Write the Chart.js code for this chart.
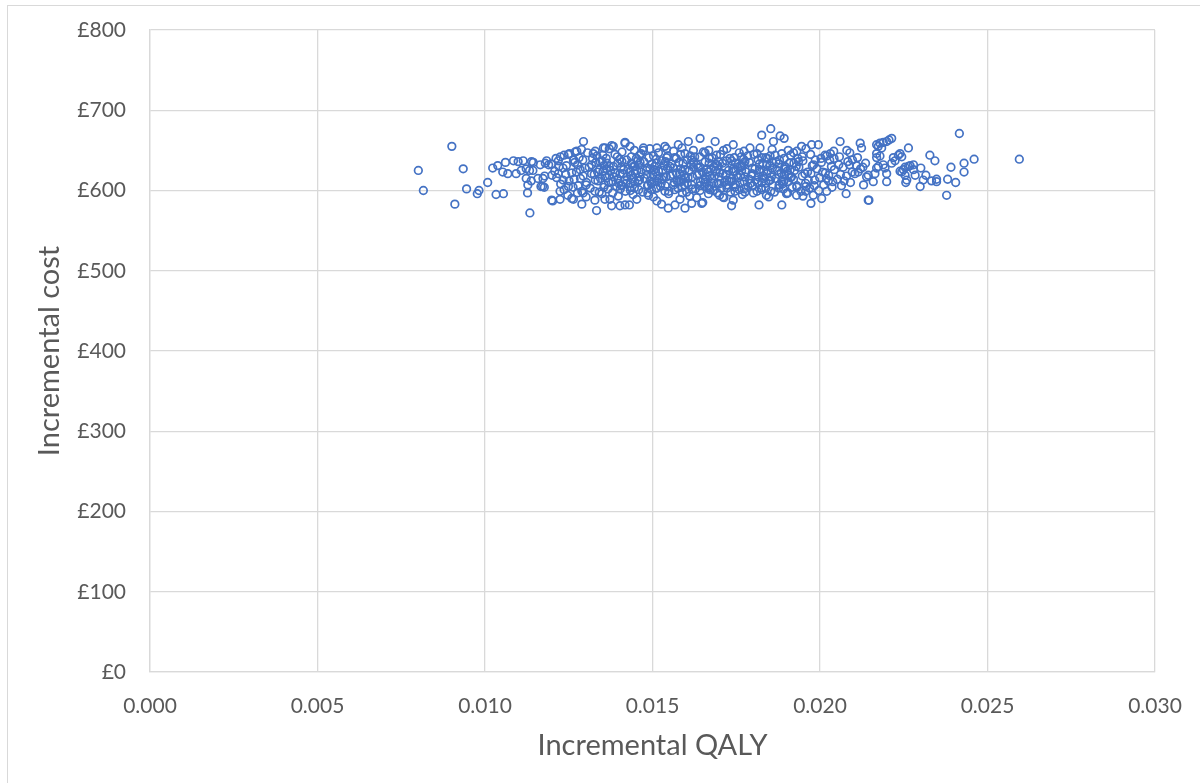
<!DOCTYPE html>
<html>
<head>
<meta charset="utf-8">
<script src="https://cdn.jsdelivr.net/npm/chart.js@4"></script>
<style>
  html, body { margin: 0; padding: 0; background: #fff; }
  #frame { position: absolute; left: 7px; top: 5px; width: 1300px; height: 900px; border: 1.5px solid #d9d9d9; }
  #wrap { position: absolute; left: 0; top: 0; width: 1200px; height: 783px; }
</style>
</head>
<body>
<div id="frame"></div>
<div id="wrap"><canvas id="ce_plane" width="1200" height="783"></canvas></div>
<script>
// incremental QALY / incremental cost pairs
var leftTail = [
  [0.00901,655],[0.00801,625],[0.00935,627],[0.00816,600],[0.00945,602],[0.00910,583],[0.00982,600],
  [0.00977,596],[0.01008,610],[0.01023,628],[0.01033,595],[0.01055,596],[0.01038,631],[0.01061,635],
  [0.01085,637],[0.01099,636],[0.01114,637],[0.01139,636],[0.01144,635],[0.01053,623],[0.01068,621],
  [0.01093,621],[0.01108,625],[0.01123,627],[0.01133,625],[0.01143,625],[0.01123,615],[0.01128,607],
  [0.01138,612],[0.01127,597],[0.01134,572],[0.01158,615],[0.01173,615],[0.01178,618],[0.01167,605],
  [0.01177,604],[0.01165,632],[0.01180,634],[0.01190,632],[0.01200,619],[0.01202,587],[0.01172,605]
];

var topFringe = [
  [0.01294,661],[0.01236,644],[0.01274,649],[0.01323,646],[0.01353,653],[0.01378,656],[0.01418,660],
  [0.01433,655],[0.01473,650],[0.01513,653],[0.01542,652],[0.01577,657],[0.01607,661],[0.01642,665],
  [0.01622,650],[0.01184,637],[0.01264,638],[0.01853,677],[0.01826,669],[0.01881,668],[0.01893,665],
  [0.01861,661],[0.01687,661],[0.01741,657],[0.01791,653],[0.01821,653],[0.01945,655],[0.01975,657],
  [0.01995,657],[0.02060,661],[0.02120,659],[0.02124,653],[0.02080,650],[0.01886,646],[0.02015,644],
  [0.02020,643],[0.01249,645],[0.01269,648],[0.01358,653],[0.01383,655],[0.01473,653],[0.01537,655],
  [0.01418,659],[0.01657,647],[0.01712,650],[0.01931,649]
];

var bottomFringe = [
  [0.01199,588],[0.01224,589],[0.01264,589],[0.01289,583],[0.01333,575],[0.01328,588],[0.01358,589],
  [0.01378,581],[0.01403,581],[0.01418,582],[0.01431,582],[0.01373,589],[0.01453,589],[0.01488,594],
  [0.01513,587],[0.01527,583],[0.01547,578],[0.01567,582],[0.01582,589],[0.01597,578],[0.01632,591],
  [0.01647,584],[0.01224,599],[0.01293,597],[0.01650,585],[0.01736,581],[0.01741,588],[0.01818,582],
  [0.01886,582],[0.01973,584],[0.01980,594],[0.02005,590],[0.02020,599],[0.02078,596],[0.02144,588],
  [0.01930,594],[0.01900,596],[0.01840,594],[0.01776,598],[0.01700,594],[0.01710,592],[0.01958,605],
  [0.02025,612],[0.02130,607],[0.01259,590],[0.01617,584]
];

var core = [
  [0.01225,642],[0.01252,646],[0.01281,641],[0.01306,647],[0.01334,643],[0.01362,640],[0.01388,645],
  [0.01409,648],[0.01437,642],[0.01466,646],[0.01489,641],[0.01518,647],[0.01545,643],[0.01571,640],
  [0.01597,646],[0.01626,642],[0.01652,648],[0.01678,641],[0.01703,645],[0.01731,640],[0.01759,647],
  [0.01784,643],[0.01812,646],[0.01838,641],[0.01866,644],[0.01893,640],[0.01921,647],[0.01947,642],
  [0.01972,645],[0.02003,640],[0.02031,646],[0.02058,642],[0.02089,647],[0.02112,641],
  [0.01198,633],[0.01219,637],[0.01243,631],[0.01268,635],[0.01292,638],[0.01318,632],[0.01343,636],
  [0.01371,630],[0.01396,634],[0.01423,638],[0.01447,631],[0.01474,636],[0.01499,633],[0.01527,637],
  [0.01552,630],[0.01579,635],[0.01604,638],[0.01632,632],[0.01657,636],[0.01684,630],[0.01709,634],
  [0.01736,637],[0.01763,631],[0.01789,635],[0.01815,638],[0.01842,632],[0.01869,636],[0.01895,630],
  [0.01922,634],[0.01949,637],[0.01977,631],[0.02004,635],[0.02029,638],[0.02056,632],[0.02083,636],
  [0.02109,631],[0.02136,634],
  [0.01208,624],[0.01233,628],[0.01259,622],[0.01284,626],[0.01311,629],[0.01336,623],[0.01363,627],
  [0.01388,622],[0.01414,626],[0.01441,629],[0.01466,623],[0.01492,627],[0.01518,624],[0.01545,628],
  [0.01571,622],[0.01597,626],[0.01622,629],[0.01649,623],[0.01674,627],[0.01701,622],[0.01727,625],
  [0.01754,629],[0.01779,623],[0.01806,627],[0.01832,624],[0.01858,628],[0.01884,622],[0.01911,626],
  [0.01937,629],[0.01963,623],[0.01991,627],[0.02016,622],[0.02043,626],[0.02069,629],[0.02096,623],
  [0.02121,627],
  [0.01214,616],[0.01241,620],[0.01266,614],[0.01293,618],[0.01318,621],[0.01345,615],[0.01371,619],
  [0.01397,614],[0.01424,617],[0.01449,621],[0.01476,615],[0.01502,619],[0.01528,614],[0.01553,618],
  [0.01581,621],[0.01606,616],[0.01633,619],[0.01658,614],[0.01685,618],[0.01711,621],[0.01737,615],
  [0.01763,619],[0.01789,614],[0.01816,617],[0.01841,621],[0.01868,615],[0.01894,619],[0.01921,614],
  [0.01947,618],[0.01973,621],[0.01999,616],[0.02026,619],[0.02052,614],[0.02079,618],[0.02104,621],
  [0.01226,608],[0.01251,612],[0.01278,606],[0.01303,610],[0.01329,613],[0.01356,607],[0.01382,611],
  [0.01408,606],[0.01434,609],[0.01461,613],[0.01487,607],[0.01513,611],[0.01538,606],[0.01565,610],
  [0.01591,613],[0.01617,607],[0.01643,611],[0.01669,606],[0.01695,609],[0.01722,613],[0.01748,607],
  [0.01774,611],[0.01799,606],[0.01826,610],[0.01852,613],[0.01878,607],[0.01905,611],[0.01931,606],
  [0.01957,609],[0.01984,613],[0.02011,607],[0.02038,611],[0.02064,606],[0.02091,610],
  [0.01236,601],[0.01263,604],[0.01289,599],[0.01314,603],[0.01341,598],[0.01367,602],[0.01393,605],
  [0.01419,599],[0.01446,603],[0.01471,598],[0.01497,601],[0.01524,605],[0.01549,599],[0.01576,603],
  [0.01602,598],[0.01628,602],[0.01655,605],[0.01681,600],[0.01706,603],[0.01733,598],[0.01759,601],
  [0.01785,605],[0.01812,599],[0.01838,603],[0.01864,598],[0.01891,602],[0.01917,604],[0.01943,599],
  [0.01969,603],[0.01996,600],
  [0.01247,594],[0.01302,592],[0.01349,596],[0.01398,593],[0.01442,595],[0.01503,592],[0.01548,596],
  [0.01611,593],[0.01667,596],[0.01713,591],[0.01768,595],[0.01847,592],[0.01902,597],[0.01949,593],
  [0.01383,630],[0.01412,621],[0.01439,633],[0.01458,612],[0.01481,625],[0.01506,630],[0.01534,617],
  [0.01557,633],[0.01584,611],[0.01609,624],[0.01637,628],[0.01661,617],[0.01689,633],[0.01714,610],
  [0.01741,624],[0.01767,630],[0.01795,618],[0.01819,633],[0.01847,612],[0.01873,625],[0.01898,629],
  [0.01915,617],[0.01452,640],[0.01542,641],[0.01641,642],[0.01744,641],[0.01843,640],[0.01399,609],
  [0.01497,608],[0.01596,607],[0.01699,608],[0.01793,609],[0.01888,608]
];

var coreExtra = [
  [0.01288,651],[0.01329,649],[0.01371,652],[0.01446,650],[0.01492,652],[0.01563,649],[0.01588,653],
  [0.01668,650],[0.01722,652],[0.01773,649],[0.01857,651],[0.01905,650],[0.01958,652],[0.02041,649],
  [0.01212,640],[0.01265,638],[0.01321,640],[0.01349,637],[0.01402,639],[0.01455,637],[0.01511,639],
  [0.01566,641],[0.01617,638],[0.01669,640],[0.01721,637],[0.01772,639],[0.01826,641],[0.01879,638],
  [0.01934,640],[0.01986,638],[0.02042,640],[0.02097,638],
  [0.01221,630],[0.01276,632],[0.01299,628],[0.01355,631],[0.01407,629],[0.01459,632],[0.01484,628],
  [0.01535,631],[0.01562,628],[0.01615,632],[0.01641,629],[0.01694,631],[0.01718,628],[0.01773,632],
  [0.01798,628],[0.01851,631],[0.01877,633],[0.01929,630],[0.01981,632],[0.02034,630],[0.02088,632],
  [0.02128,629],
  [0.01219,621],[0.01273,623],[0.01326,620],[0.01352,624],[0.01403,621],[0.01432,623],[0.01484,620],
  [0.01509,623],[0.01561,620],[0.01588,624],[0.01639,621],[0.01666,623],[0.01719,620],[0.01744,624],
  [0.01797,621],[0.01821,623],[0.01877,620],[0.01902,624],[0.01955,621],[0.02008,623],[0.02061,620],
  [0.02114,623],
  [0.01233,613],[0.01285,615],[0.01337,612],[0.01363,616],[0.01416,613],[0.01441,615],[0.01493,612],
  [0.01519,615],[0.01573,612],[0.01598,616],[0.01651,613],[0.01677,615],[0.01729,612],[0.01755,616],
  [0.01808,613],[0.01833,615],[0.01886,612],[0.01912,616],[0.01965,613],[0.02019,615],[0.02072,612],
  [0.01249,605],[0.01302,607],[0.01355,604],[0.01406,607],[0.01433,604],[0.01485,606],[0.01511,603],
  [0.01563,607],[0.01589,604],[0.01642,606],[0.01668,603],[0.01721,607],[0.01746,604],[0.01799,606],
  [0.01825,603],[0.01879,607],[0.01931,604],[0.01983,606],[0.02036,604],
  [0.01276,597],[0.01328,599],[0.01381,597],[0.01434,600],[0.01486,597],[0.01537,599],[0.01589,597],
  [0.01642,600],[0.01694,597],[0.01746,599],[0.01801,597],[0.01853,599],[0.01904,597],[0.01957,599]
];

var coreDense = [
  [0.01352,644],[0.01395,642],[0.01461,644],[0.01503,643],[0.01584,645],[0.01613,643],[0.01691,644],
  [0.01765,642],[0.01803,645],[0.01851,643],[0.01912,644],
  [0.01331,635],[0.01364,634],[0.01409,636],[0.01437,634],[0.01463,635],[0.01512,634],[0.01539,636],
  [0.01591,634],[0.01622,635],[0.01669,634],[0.01697,636],[0.01748,634],[0.01776,636],[0.01829,634],
  [0.01858,635],[0.01908,634],[0.01936,636],
  [0.01342,626],[0.01375,625],[0.01427,627],[0.01453,625],[0.01504,626],[0.01531,625],[0.01584,627],
  [0.01609,625],[0.01662,626],[0.01688,625],[0.01741,627],[0.01766,625],[0.01819,626],[0.01845,625],
  [0.01897,627],[0.01924,625],
  [0.01358,618],[0.01385,617],[0.01437,619],[0.01462,617],[0.01515,618],[0.01541,617],[0.01594,619],
  [0.01619,617],[0.01671,618],[0.01698,617],[0.01751,619],[0.01776,617],[0.01829,618],[0.01855,617],
  [0.01907,619],
  [0.01369,610],[0.01421,609],[0.01447,611],[0.01499,610],[0.01526,609],[0.01578,611],[0.01604,609],
  [0.01656,610],[0.01683,609],[0.01735,611],[0.01761,609],[0.01813,610],[0.01839,609],[0.01892,611],
  [0.01404,602],[0.01459,601],[0.01512,603],[0.01566,601],[0.01618,602],[0.01671,601],[0.01722,603],
  [0.01774,602],[0.01826,601],[0.01877,603]
];

var rightTail = [
  [0.02416,671],[0.02595,639],[0.02460,639],[0.02430,634],[0.02430,623],[0.02405,610],[0.02378,594],
  [0.02391,629],[0.02381,614],[0.02343,637],[0.02328,644],[0.02348,614],[0.02348,611],[0.02333,612],
  [0.02316,619],[0.02299,605],[0.02301,628],[0.02279,626],[0.02264,630],[0.02269,631],[0.02264,653],
  [0.02239,646],[0.02244,642],[0.02234,644],[0.02254,619],[0.02259,613],[0.02256,610],[0.02249,626],
  [0.02239,624],[0.02214,665],[0.02206,663],[0.02199,661],[0.02189,660],[0.02179,659],[0.02174,655],
  [0.02169,657],[0.02184,653],[0.02169,646],[0.02179,643],[0.02169,641],[0.02219,641],[0.02224,637],
  [0.02214,634],[0.02189,632],[0.02194,628],[0.02174,630],[0.02199,621],[0.02199,611],[0.02164,621],
  [0.02159,611],[0.02169,628],[0.02139,617],[0.02144,619],[0.02146,588],[0.02279,632],[0.02244,623],
  [0.02254,629],[0.02308,613],[0.02284,619]
];

var xTitle = 'Incremental QALY';
var yTitle = 'Incremental cost';

var points = [];
[leftTail, core, coreExtra, coreDense, topFringe, bottomFringe, rightTail].forEach(function(group) {
  group.forEach(function(p) {
    points.push({ x: p[0], y: p[1] });
  });
});

var textGrey = '#595959';
var gridGrey = '#d9d9d9';

new Chart(document.getElementById('ce_plane'), {
  type: 'scatter',
  data: {
    datasets: [{
      data: points,
      borderColor: '#4472C4',
      backgroundColor: 'rgba(0,0,0,0)',
      borderWidth: 1.7,
      pointRadius: 3.8,
      pointHoverRadius: 3.8
    }]
  },
  options: {
    responsive: false,
    animation: false,
    layout: { autoPadding: false, padding: { left: 0, right: 45, top: 30, bottom: 0 } },
    plugins: { legend: { display: false }, tooltip: { enabled: false } },
    scales: {
      x: {
        type: 'linear',
        min: 0,
        max: 0.03,
        afterFit: function(scale) { scale.height = 111; },
        // ticks kept invisible, only used to push the labels away from the axis
        grid: { color: gridGrey, lineWidth: 1.3, drawTicks: true, tickLength: 20, tickColor: 'rgba(0,0,0,0)' },
        border: { color: gridGrey, width: 1.3 },
        ticks: {
          stepSize: 0.005,
          padding: 2,
          color: textGrey,
          font: { family: 'Lato', size: 21 },
          callback: function(v) { return v.toFixed(3); }
        },
        title: {
          display: true,
          text: xTitle,
          color: textGrey,
          font: { family: 'Lato', size: 29 },
          padding: { top: 0, bottom: 20 }
        }
      },
      y: {
        min: 0,
        max: 800,
        afterFit: function(scale) { scale.width = 150; },
        grid: { color: gridGrey, lineWidth: 1.3, drawTicks: true, tickLength: 22, tickColor: 'rgba(0,0,0,0)' },
        border: { color: gridGrey, width: 1.3 },
        ticks: {
          stepSize: 100,
          padding: 2,
          color: textGrey,
          font: { family: 'Lato', size: 21 },
          callback: function(v) { return '£' + v; }
        },
        title: {
          display: true,
          text: yTitle,
          color: textGrey,
          font: { family: 'Lato', size: 29 },
          padding: { top: 32, bottom: 0 }
        }
      }
    }
  }
});
</script>
</body>
</html>
